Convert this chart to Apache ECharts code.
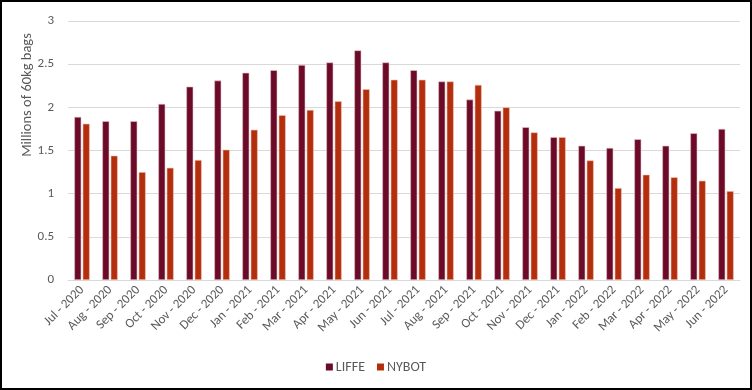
<!DOCTYPE html>
<html><head><meta charset="utf-8">
<script src="https://cdn.jsdelivr.net/npm/echarts@6/dist/echarts.min.js"></script>
<style>html,body{margin:0;padding:0;background:#fff}#c{width:752px;height:390px;box-sizing:border-box;border:2px solid #000}</style>
</head><body><div id="c"></div>
<script>
const categories = ["Jul - 2020","Aug - 2020","Sep - 2020","Oct - 2020","Nov - 2020","Dec - 2020","Jan - 2021","Feb - 2021","Mar - 2021","Apr - 2021","May - 2021","Jun - 2021","Jul - 2021","Aug - 2021","Sep - 2021","Oct - 2021","Nov - 2021","Dec - 2021","Jan - 2022","Feb - 2022","Mar - 2022","Apr - 2022","May - 2022","Jun - 2022"];
const liffe = [1.89,1.84,1.84,2.04,2.24,2.31,2.40,2.43,2.49,2.52,2.66,2.52,2.43,2.30,2.09,1.96,1.77,1.655,1.555,1.53,1.63,1.555,1.70,1.75];
const nybot = [1.81,1.44,1.25,1.30,1.39,1.51,1.74,1.91,1.97,2.07,2.21,2.32,2.32,2.30,2.26,2.00,1.71,1.655,1.385,1.065,1.22,1.19,1.15,1.03];
const yTicks = [0,0.5,1,1.5,2,2.5,3];
const yName = "Millions of 60kg bags";
const seriesNames = ["LIFFE","NYBOT"];

const chart = echarts.init(document.getElementById('c'), null, {renderer:'canvas'});
const font = "Calibri, Carlito, Lato, 'Open Sans', sans-serif";
chart.setOption({
  animation:false,
  textStyle:{fontFamily:font},
  grid:{left:66,right:10,top:19,bottom:108,containLabel:false},
  legend:{
    data:seriesNames, bottom:9, left:'center', itemWidth:7, itemHeight:7, itemGap:12,
    icon:'rect', itemStyle:{borderWidth:0},
    textStyle:{color:'#595959',fontSize:14,fontFamily:font,padding:[0,0,0,-2]}
  },
  graphic:[{type:'text', x:25, y:93, rotation:Math.PI/2,
    style:{text:yName, fill:'#595959', font:"14.5px "+font, align:'center', verticalAlign:'middle'}}],
  xAxis:{
    type:'category', data:categories,
    axisLine:{lineStyle:{color:'#d9d9d9',width:1}}, axisTick:{show:false},
    axisLabel:{rotate:45, color:'#595959', fontSize:13, interval:0, margin:8, fontFamily:font}
  },
  yAxis:{
    type:'value', min:0, max:3, interval:0.5,
    axisLine:{show:false}, axisTick:{show:false},
    splitLine:{lineStyle:{color:'#d9d9d9',width:1}},
    axisLabel:{color:'#595959', fontSize:13, margin:14, fontFamily:font,
      formatter:v=>yTicks.includes(v)?String(v):''}
  },
  series:[
    {name:seriesNames[0], type:'bar', data:liffe, barWidth:7, barGap:'20%',
     itemStyle:{color:'#6b0b27', borderColor:'#e7c3cc', borderWidth:0.6}},
    {name:seriesNames[1], type:'bar', data:nybot, barWidth:7,
     itemStyle:{color:'#b22e0d', borderColor:'#f0c2b3', borderWidth:0.6}}
  ]
});
</script></body></html>
